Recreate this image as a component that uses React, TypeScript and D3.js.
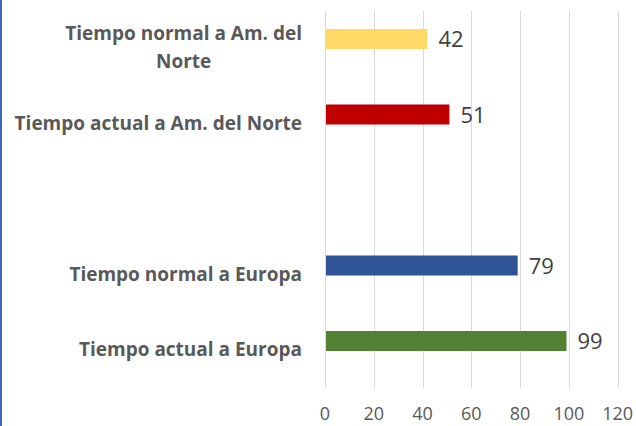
import React, { useEffect, useRef } from 'react';
import * as d3 from 'd3';

// top-to-bottom order as drawn; the empty slot is the gap between the two groups
const categories = [
  'Tiempo normal a Am. del Norte',
  'Tiempo actual a Am. del Norte',
  '',
  'Tiempo normal a Europa',
  'Tiempo actual a Europa',
];
const values: (number | null)[] = [42, 51, null, 79, 99];
const barColors = ['#FFD966', '#C00000', 'none', '#2F5597', '#548235'];
// how the long labels wrap in the original
const labelLines = [
  ['Tiempo normal a Am. del', 'Norte'],
  ['Tiempo actual a Am. del Norte'],
  [],
  ['Tiempo normal a Europa'],
  ['Tiempo actual a Europa'],
];
const xTicks = [0, 20, 40, 60, 80, 100, 120];

const W = 636;
const H = 426;

const App = () => {
  const ref = useRef<SVGSVGElement | null>(null);

  useEffect(() => {
    const svg = d3.select(ref.current);
    svg.selectAll('*').remove();

    const plot = { left: 325, right: 617.7, top: 11, bottom: 388 };

    const x = d3.scaleLinear().domain([0, 120]).range([plot.left, plot.right]);
    // category slots (Excel centres them a bit above the gridline box)
    const y = d3.scaleBand<string>()
      .domain(categories.map((c, i) => `${i}`))
      .range([1.25, 378.75])
      .paddingInner(0.735)
      .paddingOuter(0.3675);

    // blue frame edge on the left
    svg.append('rect').attr('x', 0).attr('y', 0).attr('width', 2).attr('height', H).attr('fill', '#3D67B8');

    // gridlines
    svg.append('g')
      .selectAll('line')
      .data(xTicks)
      .enter()
      .append('line')
      .attr('x1', (d) => Math.round(x(d)) + 0.5)
      .attr('x2', (d) => Math.round(x(d)) + 0.5)
      .attr('y1', plot.top)
      .attr('y2', plot.bottom)
      .attr('stroke', '#D9D9D9')
      .attr('stroke-width', 1);

    // tick labels
    svg.append('g')
      .selectAll('text')
      .data(xTicks)
      .enter()
      .append('text')
      .attr('x', (d) => x(d))
      .attr('y', 420)
      .attr('text-anchor', 'middle')
      .style('font-family', '"Open Sans", sans-serif')
      .style('font-size', '18px')
      .style('fill', '#595959')
      .text((d) => d);

    const data = categories.map((c, i) => ({
      key: `${i}`,
      value: values[i],
      color: barColors[i],
      lines: labelLines[i],
    }));

    // bars
    svg.append('g')
      .selectAll('rect')
      .data(data.filter((d) => d.value != null))
      .enter()
      .append('rect')
      .attr('x', x(0) + 1)
      .attr('y', (d) => y(d.key)!)
      .attr('width', (d) => x(d.value as number) - x(0) - 1)
      .attr('height', y.bandwidth())
      .attr('fill', (d) => d.color);

    // value labels
    svg.append('g')
      .selectAll('text')
      .data(data.filter((d) => d.value != null))
      .enter()
      .append('text')
      .attr('x', (d) => x(d.value as number) + 11)
      .attr('y', (d) => y(d.key)! + y.bandwidth() / 2 + 8)
      .style('font-family', '"Open Sans", sans-serif')
      .style('font-size', '22px')
      .style('fill', '#404040')
      .text((d) => d.value as number);

    // category labels, right aligned block, wrapped lines centred on each other
    const labelRight = 302;
    const lineGap = 28;
    data.forEach((d) => {
      if (!d.lines.length) return;
      const cy = y(d.key)! + y.bandwidth() / 2 + 15;
      const g = svg.append('g');
      const texts = d.lines.map((ln, j) =>
        g.append('text')
          .attr('y', cy + (j - (d.lines.length - 1) / 2) * lineGap)
          .attr('text-anchor', 'middle')
          .style('font-family', '"Open Sans", sans-serif')
          .style('font-size', '19px')
          .style('font-weight', 700)
          .style('fill', '#595959')
          .text(ln)
      );
      const widths = texts.map((t) => (t.node() as SVGTextElement).getComputedTextLength());
      const maxW = d3.max(widths) || 0;
      texts.forEach((t) => t.attr('x', labelRight - maxW / 2));
    });
  }, []);

  return (
    <svg
      ref={ref}
      width={W}
      height={H}
      style={{ position: 'absolute', left: 0, top: 0, background: '#fff' }}
    />
  );
};

export default App;
